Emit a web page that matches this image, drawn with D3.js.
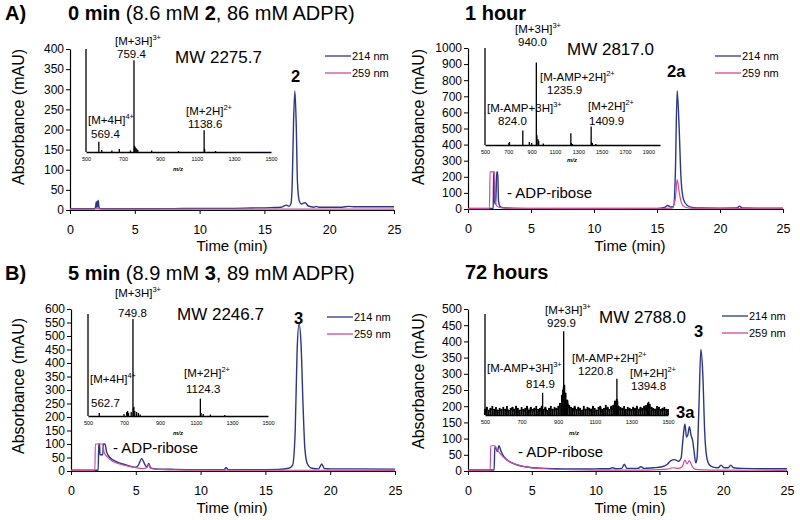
<html>
<head>
<script src="https://d3js.org/d3.v7.min.js"></script>
<style>
body { margin: 0; background: #fff; }
text { font-family: "Liberation Sans", Arial, Helvetica, sans-serif; fill: #000; white-space: pre; }
</style>
</head>
<body>
<svg width="800" height="520"></svg>
<script>
// ---- data ----
var timeTicks = [0, 5, 10, 15, 20, 25];
var ticks400 = [0, 50, 100, 150, 200, 250, 300, 350, 400];
var ticks1000 = [0, 100, 200, 300, 400, 500, 600, 700, 800, 900, 1000];
var ticks600 = [0, 50, 100, 150, 200, 250, 300, 350, 400, 450, 500, 550, 600];
var ticks500 = [0, 50, 100, 150, 200, 250, 300, 350, 400, 450, 500];
var mzTicks1500 = [500, 700, 900, 1100, 1300, 1500];
var mzTicks2000 = [500, 700, 900, 1100, 1300, 1500, 1700, 1900];

// chromatograms [time (min), absorbance (mAU)]
var aBlue = [[0,3],[1,3],[1.9,3],[1.98,9],[2.02,20],[2.06,6],[2.1,22],[2.14,8],[2.18,24],[2.24,6],[2.4,3],[4,3],[6,3],[8,3.5],[10,4],[12,4],[14,5],[15.5,6],[16.3,7],[16.7,12],[16.9,9],[17.05,16],[17.15,70],[17.25,220],[17.35,296],[17.45,220],[17.55,70],[17.68,24],[17.85,15],[18.0,17],[18.15,18],[18.35,11],[18.6,8],[18.8,7],[19.0,9],[19.2,7],[20,7],[21,7],[21.5,9],[22,8],[23,8],[24,8],[25,8]];
var aPink = [[0,2],[1.9,2],[2.0,4],[2.1,3],[2.2,4],[2.3,2],[10,2],[25,2]];

var hBlue = [[0,3],[1.9,3],[2.0,4],[2.04,230],[2.08,230],[2.12,40],[2.2,30],[2.28,230],[2.36,230],[2.42,50],[2.55,15],[2.8,8],[3.5,5],[5,4],[8,3],[12,3],[15,4],[15.6,10],[15.85,22],[16.1,12],[16.3,14],[16.45,200],[16.6,735],[16.75,520],[16.9,200],[17.1,60],[17.4,22],[17.8,10],[18.5,6],[20,5],[21.35,6],[21.55,18],[21.75,6],[23,5],[25,5]];
var hPink = [[0,2],[1.7,2],[1.75,230],[2.1,230],[2.15,60],[2.3,18],[2.6,8],[3,5],[4,3],[10,2],[15,3],[16.2,5],[16.45,60],[16.6,182],[16.75,110],[16.95,35],[17.2,12],[17.6,5],[18.5,3],[25,3]];

var bBlue = [[0,3],[2.1,3],[2.14,100],[2.2,100],[2.24,60],[2.45,60],[2.5,100],[2.62,100],[2.75,70],[3.0,50],[3.5,35],[4.0,26],[4.5,19],[5.0,14],[5.2,22],[5.45,46],[5.7,24],[5.85,15],[6.0,28],[6.15,12],[6.5,8],[8,6],[10,5],[11.8,5],[11.97,12],[12.15,5],[14,5],[16,6],[16.8,10],[17.1,22],[17.3,150],[17.45,450],[17.6,545],[17.75,470],[17.9,250],[18.05,80],[18.25,25],[18.6,10],[19.1,8],[19.35,26],[19.55,9],[20,8],[22,8],[25,7]];
var bPink = [[0,2],[1.84,2],[1.88,100],[2.45,100],[2.55,70],[2.8,52],[3.2,36],[3.8,25],[4.5,17],[5.0,12],[5.5,9],[5.85,12],[6.0,25],[6.12,10],[6.5,7],[8,4],[10,3],[25,2]];

var tBlue = [[0,3],[2.05,3],[2.1,75],[2.2,70],[2.3,60],[2.42,78],[2.6,60],[2.8,45],[3.1,33],[3.5,24],[4,17],[4.5,13],[5,10],[6,8],[7,7],[8,6],[9.5,6],[10.5,7],[11.1,7],[11.33,10],[11.55,7],[12.05,8],[12.25,21],[12.45,8],[13.3,8],[13.55,13],[13.8,8],[14.5,10],[15.2,13],[15.6,20],[15.9,32],[16.2,35],[16.5,30],[16.7,40],[16.85,100],[17.0,145],[17.12,105],[17.22,110],[17.35,137],[17.48,110],[17.6,95],[17.72,60],[17.85,25],[17.95,40],[18.1,200],[18.25,375],[18.4,300],[18.55,120],[18.7,45],[18.9,20],[19.2,12],[19.6,10],[19.83,18],[20.05,10],[20.4,10],[20.6,18],[20.8,10],[21.5,8],[23,7],[25,7]];
var tPink = [[0,2],[1.74,2],[1.78,78],[2.1,78],[2.25,68],[2.5,55],[2.8,42],[3.2,30],[3.8,20],[4.5,13],[5,10],[6,7],[8,4],[10,3],[14,3],[15,4],[15.6,6],[16.1,10],[16.5,8],[16.8,14],[17.0,34],[17.15,22],[17.35,32],[17.5,20],[17.7,8],[18,4],[19,3],[25,2]];

// mass spectra sticks [m/z, relative intensity %]
var specA = [[569.4,10],[585,2],[640,1.5],[680,3],[740,1.5],[759.4,89],[762,6],[765,5],[770,4],[775,3],[780,2],[855,1.5],[1000,1],[1138.6,21],[1141,3],[1200,1]];
var specH = [[705,2],[710,3],[824,15],[880,3],[900,2],[940,85],[945,10],[955,6],[960,4],[1000,1.5],[1235.9,12],[1240,2],[1250,1],[1409.9,19],[1413,3],[1420,2],[1450,1]];
var specB = [[562.7,3],[700,2],[715,4],[720,5],[725,3],[740,4],[749.8,95],[752,8],[755,9],[760,5],[770,4],[780,3],[790,1.5],[1124.3,17],[1128,3],[1140,2],[1180,1.5],[1260,1]];
var specT = [[814.9,22],[925,25],[929.9,83],[935,30],[940,22],[945,15],[950,10],[1215,12],[1220.8,36],[1225,14],[1230,8],[1390,10],[1394.8,13],[1400,10]];
// baseline noise of the 72 h spectrum, one value every 10 m/z from 500 to 1500
var noiseT = [6,8,5,7,9,6,8,5,7,6, 8,6,9,5,7,8,6,9,7,5, 8,6,7,9,5,8,6,7,9,6, 7,9,6,8,5,7,9,6,8,7,
              9,12,20,28,22,15,10,8,7,9, 6,8,7,5,9,6,8,7,6,9, 7,5,8,9,6,7,10,8,6,9, 10,14,16,9,8,7,9,6,8,7,
              6,8,7,9,6,8,7,9,10,12, 11,8,7,6,9,8,6,7,8,6, 6];

// ---- drawing ----
var BLUE = "#2b3590", PINK = "#d4489d";
var svg = d3.select("svg");

function txt(parent, x, y, size, anchor, weight) {
  return parent.append("text")
    .attr("x", x).attr("y", y)
    .attr("font-size", size)
    .attr("text-anchor", anchor || "start")
    .attr("font-weight", weight || "normal");
}
// ion label: "[M+nH]" with superscript charge, and the m/z value under it
function ionLabel(l) {
  var t = txt(svg, l[0], l[1], 11.5);
  t.append("tspan").text(l[2]);
  t.append("tspan").attr("font-size", 7.5).attr("dy", -5).text(l[3]);
  txt(svg, l[4], l[5], 11.5).text(l[6]);
}

var panels = [
  { x0: 70, x1: 394, y0: 210, y1: 49, ymax: 400, yticks: ticks400, blue: aBlue, pink: aPink,
    ylab: [24, 117], xlab: [232, 251], leg: [325, 56],
    title: { x: 68, y: 20, parts: [["0 min ", "bold"], ["(8.6 mM ", "normal"], ["2", "bold"], [", 86 mM ADPR)", "normal"]] },
    letter: { t: "A)", x: 5, y: 20 },
    peaks: [["2", 291, 82]],
    adp: null,
    inset: { l: 86, r: 271, t: 49, b: 152, dom: [500, 1500], ticks: mzTicks1500, spec: specA, noise: null, mz: [178, 171] },
    mw: ["MW 2275.7", 175, 63],
    labels: [[115, 45, "[M+3H]", "3+", 117, 58, "759.4"], [88, 124, "[M+4H]", "4+", 91, 138, "569.4"],
             [186, 115, "[M+2H]", "2+", 188, 128, "1138.6"]] },
  { x0: 468, x1: 783, y0: 209, y1: 48, ymax: 1000, yticks: ticks1000, blue: hBlue, pink: hPink,
    ylab: [424, 117], xlab: [630, 251], leg: [715, 56],
    title: { x: 465, y: 20, parts: [["1 hour", "bold"]] },
    letter: null,
    peaks: [["2a", 667, 77]],
    adp: [507, 198],
    inset: { l: 485, r: 660, t: 48, b: 145, dom: [500, 2000], ticks: mzTicks2000, spec: specH, noise: null, mz: [572, 162] },
    mw: ["MW 2817.0", 567, 55],
    labels: [[515, 33, "[M+3H]", "3+", 518, 46, "940.0"], [540, 81, "[M-AMP+2H]", "2+", 547, 94, "1235.9"],
             [487, 112, "[M-AMP+3H]", "3+", 498, 125, "824.0"], [588, 110, "[M+2H]", "2+", 589, 125, "1409.9"]] },
  { x0: 71, x1: 395, y0: 471, y1: 309, ymax: 600, yticks: ticks600, blue: bBlue, pink: bPink,
    ylab: [24, 386], xlab: [232, 513], leg: [327, 317],
    title: { x: 68, y: 280, parts: [["5 min ", "bold"], ["(8.9 mM ", "normal"], ["3", "bold"], [", 89 mM ADPR)", "normal"]] },
    letter: { t: "B)", x: 5, y: 280 },
    peaks: [["3", 294, 324]],
    adp: [113, 453],
    inset: { l: 88, r: 268, t: 314, b: 416, dom: [500, 1500], ticks: mzTicks1500, spec: specB, noise: null, mz: [178, 435] },
    mw: ["MW 2246.7", 177, 320],
    labels: [[115, 297, "[M+3H]", "3+", 118, 317, "749.8"], [90, 383, "[M+4H]", "4+", 91, 407, "562.7"],
             [184, 377, "[M+2H]", "2+", 186, 393, "1124.3"]] },
  { x0: 468, x1: 787, y0: 471, y1: 309, ymax: 500, yticks: ticks500, blue: tBlue, pink: tPink,
    ylab: [424, 381], xlab: [630, 513], leg: [722, 316],
    title: { x: 465, y: 279, parts: [["72 hours", "bold"]] },
    letter: null,
    peaks: [["3", 694, 337], ["3a", 676, 418]],
    adp: [518, 457],
    inset: { l: 485, r: 668, t: 314, b: 415, dom: [500, 1500], ticks: mzTicks1500, spec: specT, noise: noiseT, mz: [574, 435] },
    mw: ["MW 2788.0", 599, 323],
    labels: [[545, 314, "[M+3H]", "3+", 547, 327, "929.9"], [572, 362, "[M-AMP+2H]", "2+", 578, 375, "1220.8"],
             [487, 372, "[M-AMP+3H]", "3+", 526, 388, "814.9"], [630, 377, "[M+2H]", "2+", 631, 390, "1394.8"]] }
];

function drawInset(ins) {
  var x = d3.scaleLinear().domain(ins.dom).range([ins.l, ins.r]);
  var y = d3.scaleLinear().domain([0, 100]).range([ins.b, ins.t]);
  var g = svg.append("g");
  if (ins.noise) {
    var nz = ins.noise.map(function(v, i) { return [500 + i * 10, v]; });
    g.selectAll("line.nz").data(nz).join("line").attr("class", "nz")
      .attr("x1", function(d) { return x(d[0]); }).attr("x2", function(d) { return x(d[0]); })
      .attr("y1", y(0)).attr("y2", function(d) { return y(d[1]); })
      .attr("stroke", "#000").attr("stroke-width", 1.8);
    g.append("path").datum(nz)
      .attr("d", d3.line().x(function(d) { return x(d[0]); }).y(function(d, i) { return y(i % 2 ? d[1] : d[1] * 0.5); }))
      .attr("fill", "none").attr("stroke", "#000").attr("stroke-width", 1);
  }
  g.selectAll("line.pk").data(ins.spec).join("line").attr("class", "pk")
    .attr("x1", function(d) { return x(d[0]); }).attr("x2", function(d) { return x(d[0]); })
    .attr("y1", y(0)).attr("y2", function(d) { return y(d[1]); })
    .attr("stroke", "#000").attr("stroke-width", 1.3);
  g.append("line").attr("x1", ins.l).attr("x2", ins.l).attr("y1", y(0)).attr("y2", y(100))
    .attr("stroke", "#000").attr("stroke-width", 1.3);
  var ax = g.append("g").attr("transform", "translate(0," + ins.b + ")")
    .call(d3.axisBottom(x).tickValues(ins.ticks).tickFormat(d3.format("d")).tickSize(0).tickPadding(5).tickSizeOuter(0));
  ax.attr("font-family", null).attr("font-size", null);
  ax.select(".domain").attr("stroke", "#000").attr("stroke-width", 1.6);
  ax.selectAll("text").attr("font-size", 5.5);
  txt(g, ins.mz[0], ins.mz[1], 6, "middle", "bold").attr("font-style", "italic").text("m/z");
}

panels.forEach(function(p) {
  var x = d3.scaleLinear().domain([0, 25]).range([p.x0, p.x1]);
  var y = d3.scaleLinear().domain([0, p.ymax]).range([p.y0, p.y1]);

  // titles
  if (p.letter) txt(svg, p.letter.x, p.letter.y, 20, "start", "bold").text(p.letter.t);
  var tt = txt(svg, p.title.x, p.title.y, 20);
  p.title.parts.forEach(function(s) { tt.append("tspan").attr("font-weight", s[1]).text(s[0]); });

  // axes
  var xa = svg.append("g").attr("transform", "translate(0," + p.y0 + ")")
    .call(d3.axisBottom(x).tickValues(timeTicks).tickSize(4).tickPadding(11).tickSizeOuter(0));
  var ya = svg.append("g").attr("transform", "translate(" + p.x0 + ",0)")
    .call(d3.axisLeft(y).tickValues(p.yticks).tickFormat(d3.format("d")).tickSize(4).tickPadding(2).tickSizeOuter(0));
  [xa, ya].forEach(function(a) {
    a.attr("font-family", null).attr("font-size", null);
    a.select(".domain").attr("stroke", "#000").attr("stroke-width", 1.2);
    a.selectAll(".tick line").attr("stroke", "#000");
  });
  xa.selectAll("text").attr("font-size", 12.5);
  ya.selectAll("text").attr("font-size", 12);

  txt(svg, p.xlab[0], p.xlab[1], 15, "middle").text("Time (min)");
  svg.append("text").attr("transform", "translate(" + p.ylab[0] + "," + p.ylab[1] + ") rotate(-90)")
    .attr("text-anchor", "middle").attr("font-size", 16).text("Absorbance (mAU)");

  // legend
  [[BLUE, "214 nm", 0], [PINK, "259 nm", 17]].forEach(function(l) {
    svg.append("line").attr("x1", p.leg[0]).attr("x2", p.leg[0] + 26)
      .attr("y1", p.leg[1] + l[2]).attr("y2", p.leg[1] + l[2]).attr("stroke", l[0]).attr("stroke-width", 1.3);
    txt(svg, p.leg[0] + 27, p.leg[1] + l[2] + 4, 11).text(l[1]);
  });

  // inset spectrum
  drawInset(p.inset);
  txt(svg, p.mw[1], p.mw[2], 17).text(p.mw[0]);
  p.labels.forEach(ionLabel);

  // chromatogram traces
  var line = d3.line().x(function(d) { return x(d[0]); }).y(function(d) { return y(d[1]); }).curve(d3.curveMonotoneX);
  svg.append("path").datum(p.blue).attr("d", line).attr("fill", "none").attr("stroke", BLUE).attr("stroke-width", 1.4);
  svg.append("path").datum(p.pink).attr("d", line).attr("fill", "none").attr("stroke", PINK).attr("stroke-width", 1.2);

  p.peaks.forEach(function(k) { txt(svg, k[1], k[2], 16.5, "start", "bold").text(k[0]); });
  if (p.adp) txt(svg, p.adp[0], p.adp[1], 15).text("- ADP-ribose");
});
</script>
</body>
</html>
